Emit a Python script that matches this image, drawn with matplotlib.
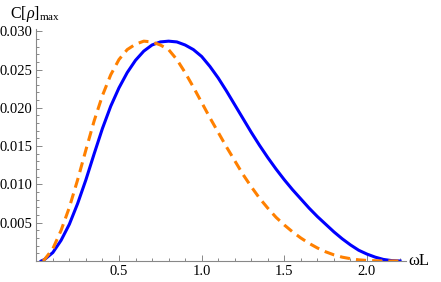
import matplotlib
matplotlib.use('Agg')
import matplotlib.pyplot as plt
from matplotlib.ticker import MultipleLocator, FixedLocator

# values
blue_x = [0.03, 0.05, 0.1, 0.15, 0.2, 0.25, 0.3, 0.35, 0.4, 0.45, 0.5, 0.55, 0.6, 0.65,
          0.7, 0.75, 0.8, 0.85, 0.9, 0.95, 1.0, 1.05, 1.1, 1.15, 1.2, 1.25, 1.3, 1.35,
          1.4, 1.45, 1.5, 1.55, 1.6, 1.65, 1.7, 1.75, 1.8, 1.85, 1.9, 1.95, 2.0, 2.05,
          2.1, 2.15, 2.2]
blue_y = [0.0, 0.0002, 0.0011, 0.0027, 0.0048, 0.0075, 0.0106, 0.0140, 0.0173, 0.0202,
          0.0226, 0.0246, 0.0262, 0.0274, 0.0282, 0.0286, 0.0287, 0.0286, 0.0282, 0.0276,
          0.0267, 0.0254, 0.0239, 0.0222, 0.0204, 0.0186, 0.0168, 0.0151, 0.0135, 0.0120,
          0.0106, 0.0093, 0.0081, 0.0069, 0.0058, 0.0048, 0.0038, 0.0029, 0.0021, 0.0014,
          0.0009, 0.0005, 0.0002, 0.00005, 0.0]

orange_x = [0.04, 0.05, 0.1, 0.15, 0.2, 0.25, 0.3, 0.35, 0.4, 0.45, 0.5, 0.55, 0.6, 0.65,
            0.7, 0.75, 0.8, 0.85, 0.9, 0.95, 1.0, 1.05, 1.1, 1.15, 1.2, 1.25, 1.3, 1.35,
            1.4, 1.45, 1.5, 1.55, 1.6, 1.65, 1.7, 1.75, 1.8, 1.85, 1.9, 1.95, 2.0, 2.1,
            2.19]
orange_y = [0.0, 0.0002, 0.0016, 0.0040, 0.0070, 0.0106, 0.0145, 0.0183, 0.0216, 0.0243,
            0.0263, 0.0276, 0.0283, 0.0287, 0.0286, 0.0282, 0.0276, 0.0263, 0.0246, 0.0227,
            0.0207, 0.0187, 0.0168, 0.0149, 0.0131, 0.0113, 0.0097, 0.0082, 0.0069, 0.0057,
            0.0047, 0.0038, 0.0030, 0.0023, 0.0017, 0.0012, 0.0008, 0.0005, 0.0003, 0.00015,
            0.00007, 0.0, 0.0]

ytick_vals = [0.005, 0.010, 0.015, 0.020, 0.025, 0.030]
ytick_labels = ['0.005', '0.010', '0.015', '0.020', '0.025', '0.030']
xtick_vals = [0.5, 1.0, 1.5, 2.0]
xtick_labels = ['0.5', '1.0', '1.5', '2.0']

plt.rcParams['font.family'] = 'Liberation Serif'
plt.rcParams['mathtext.fontset'] = 'custom'
plt.rcParams['mathtext.rm'] = 'Liberation Serif'
plt.rcParams['mathtext.it'] = 'Liberation Serif:italic'

fig = plt.figure(figsize=(4.41, 2.82), dpi=100)
ax = fig.add_axes([0.0823, 0.0745, 0.838, 0.823])

ax.plot(blue_x, blue_y, color=(0, 0, 1), lw=2.2, solid_joinstyle='round')
ax.plot(orange_x, orange_y, color=(1, 0.5, 0), lw=2.2, linestyle=(0, (3.3, 2.0)),
        dash_capstyle='butt', dash_joinstyle='round')

ax.set_xlim(0, 2.235)
ax.set_ylim(0, 0.0303)

for side in ['top', 'right']:
    ax.spines[side].set_visible(False)
for side in ['left', 'bottom']:
    ax.spines[side].set_color('#888888')
    ax.spines[side].set_linewidth(0.8)

ax.yaxis.set_major_locator(FixedLocator(ytick_vals))
ax.set_yticklabels(ytick_labels)
ax.xaxis.set_major_locator(FixedLocator(xtick_vals))
ax.set_xticklabels(xtick_labels)
ax.xaxis.set_minor_locator(MultipleLocator(0.1))
ax.yaxis.set_minor_locator(MultipleLocator(0.001))
ax.tick_params(which='both', direction='in', color='#888888', width=0.7, labelsize=10.5)
ax.tick_params(which='major', length=4, pad=3)
ax.tick_params(which='minor', length=2.2)

fig.text(0.022, 0.935, r'C[$\it{\rho}$]$_{\rm max}$', fontsize=11.5, va='baseline')
fig.text(0.925, 0.075, 'ωL', fontsize=12, va='center')

fig.savefig('out.png', dpi=100)
